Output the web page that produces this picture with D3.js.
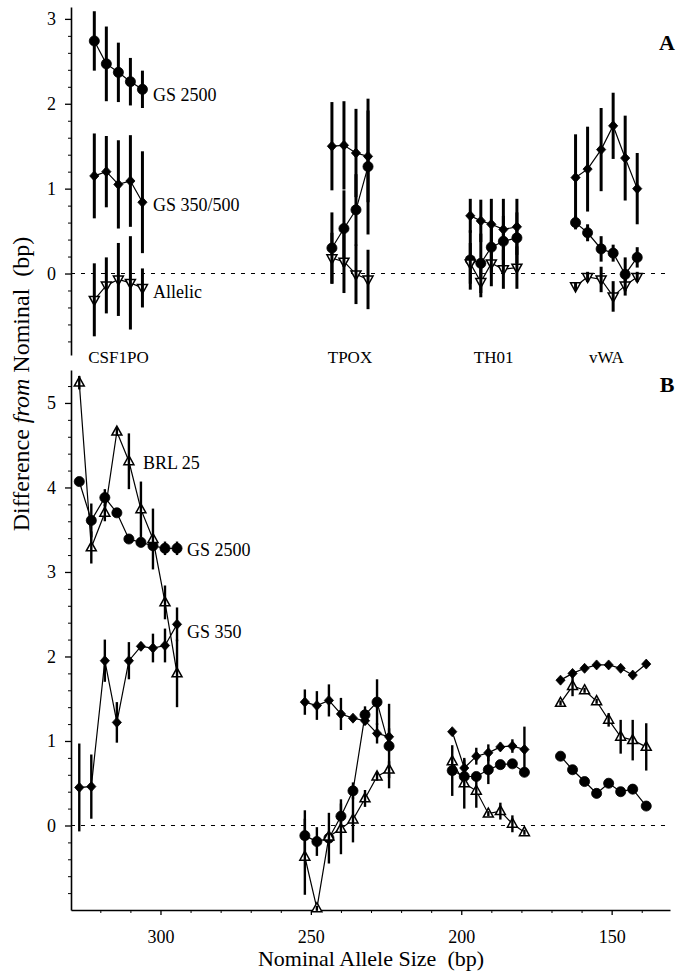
<!DOCTYPE html>
<html>
<head>
<meta charset="utf-8">
<script src="https://d3js.org/d3.v7.min.js"></script>
<style>
  body { margin: 0; background: #fff; }
  text { font-family: "Liberation Serif", "Times New Roman", serif; fill: #000; }
</style>
</head>
<body>
<div id="chart"></div>
<script>

// ---------- data ----------

// panel A : loci, nominal sizes (bp) and mean differences
var lociA = ["CSF1PO", "TPOX", "TH01", "vWA"];
var sizeA = [
    [322, 318, 314, 310, 306],
    [243, 239, 235, 231],
    [197, 193.5, 190, 186, 181.5],
    [162, 158, 153.5, 149.5, 145.5, 141.5]
];
var gs2500A    = [[2.74, 2.47, 2.37, 2.26, 2.17], [0.30, 0.53, 0.75, 1.26], [0.16, 0.12, 0.31, 0.38, 0.42], [0.60, 0.48, 0.29, 0.24, -0.01, 0.19]];
var gs2500AErr = [[0.35, 0.44, 0.35, 0.28, 0.22], [0.42, 0.45, 0.42, 0.80], [0.35, 0.35, 0.30, 0.30, 0.30], [0.08, 0.10, 0.15, 0.10, 0.20, 0.12]];
var gs350A     = [[1.15, 1.20, 1.05, 1.09, 0.84], [1.50, 1.51, 1.42, 1.38], [0.68, 0.62, 0.58, 0.52, 0.55], [1.13, 1.23, 1.46, 1.74, 1.36, 1.00]];
var gs350AErr  = [[0.50, 0.42, 0.52, 0.54, 0.60], [0.52, 0.52, 0.52, 0.54], [0.20, 0.25, 0.30, 0.36, 0.33], [0.51, 0.50, 0.49, 0.39, 0.50, 0.42]];
var allelicA    = [[-0.31, -0.14, -0.07, -0.11, -0.17], [0.18, 0.14, -0.01, -0.07], [0.12, -0.10, 0.12, 0.05, 0.07], [-0.15, -0.04, -0.07, -0.27, -0.14, -0.04]];
var allelicAErr = [[0.43, 0.33, 0.43, 0.55, 0.23], [0.30, 0.37, 0.35, 0.35], [0.24, 0.18, 0.27, 0.23, 0.25], [0.05, 0.06, 0.15, 0.18, 0.12, 0.06]];

// panel B : same loci, more alleles
var sizeB = [
    [327, 323, 318.5, 314.5, 310.5, 306.5, 302.5, 298.5, 294.5],
    [252, 248, 244, 240, 236, 232, 228, 224],
    [203, 199, 195, 191, 187, 183, 179],
    [167, 163, 159, 155, 151, 147, 143, 138.5]
];
var gs2500B    = [[4.07, 3.61, 3.88, 3.70, 3.39, 3.35, 3.31, 3.28, 3.28], [-0.12, -0.19, -0.15, 0.11, 0.41, 1.31, 1.46, 0.94], [0.65, 0.58, 0.58, 0.66, 0.72, 0.73, 0.63], [0.82, 0.66, 0.52, 0.38, 0.50, 0.40, 0.43, 0.23]];
var gs2500BErr = [[0.03, 0.20, 0.10, 0.03, 0.03, 0.03, 0.05, 0.08, 0.08], [0.30, 0.17, 0.30, 0.20, 0.10, 0.10, 0.27, 0.50], [0.30, 0.10, 0.05, 0.17, 0.03, 0.03, 0.03], [0.03, 0.03, 0.03, 0.03, 0.03, 0.03, 0.03, 0.03]];
var gs350B     = [[0.45, 0.46, 1.95, 1.22, 1.95, 2.12, 2.10, 2.13, 2.38], [1.46, 1.42, 1.48, 1.32, 1.27, 1.24, 1.09, 1.05], [1.11, 0.68, 0.82, 0.86, 0.93, 0.94, 0.90], [1.72, 1.80, 1.86, 1.90, 1.90, 1.86, 1.78, 1.91]];
var gs350BErr  = [[0.52, 0.38, 0.25, 0.24, 0.22, 0.05, 0.17, 0.20, 0.20], [0.15, 0.17, 0.19, 0.19, 0.03, 0.05, 0.12, 0.10], [0.03, 0.10, 0.10, 0.10, 0.05, 0.08, 0.27], [0.03, 0.03, 0.03, 0.03, 0.03, 0.03, 0.03, 0.03]];
var brl25B     = [[5.24, 3.29, 3.70, 4.66, 4.31, 3.74, 3.39, 2.64, 1.80], [-0.37, -0.98, -0.13, -0.04, 0.07, 0.32, 0.58, 0.66], [0.76, 0.50, 0.41, 0.14, 0.17, 0.02, -0.08], [1.45, 1.65, 1.60, 1.47, 1.25, 1.05, 1.01, 0.93]];
var brl25BErr  = [[0.08, 0.19, 0.10, 0.05, 0.33, 0.33, 0.36, 0.20, 0.40], [0.45, 0.03, 0.05, 0.30, 0.27, 0.10, 0.05, 0.10], [0.05, 0.30, 0.20, 0.03, 0.10, 0.10, 0.03], [0.03, 0.12, 0.03, 0.03, 0.08, 0.20, 0.24, 0.28]];

var xTicks = [300, 250, 200, 150];
var yTicksA = [0, 1, 2, 3];
var yTicksB = [0, 1, 2, 3, 4, 5];


// ---------- layout ----------
var width = 676, height = 973;
var left = 71, right = 670;

var svg = d3.select("#chart").append("svg")
    .attr("width", width)
    .attr("height", height);

var x = d3.scaleLinear().domain([329.75, 130.6]).range([left, right]);
var yA = d3.scaleLinear().domain([-0.96, 3.14]).range([355, 7]);
var yB = d3.scaleLinear().domain([-1, 5.39]).range([910, 370]);

// marker shapes
var shapes = {
    circle: d3.symbol().type(d3.symbolCircle).size(80)(),
    diamond: "M0,-5L4.6,0L0,5L-4.6,0Z",
    triUp: "M0,-5.6L5,3.4L-5,3.4Z",
    triDown: "M0,5.6L5,-3.4L-5,-3.4Z"
};


// left axis with 0.2 minor ticks, no box
function drawYAxis(y, ticks) {
    var dom = y.domain();
    var minor = d3.range(Math.ceil(dom[0] * 5) / 5, dom[1], 0.2)
        .filter(function(v) { return Math.abs(v - Math.round(v)) > 0.01; });

    var g = svg.append("g").attr("transform", "translate(" + left + ",0)");
    g.call(d3.axisLeft(y).tickValues(ticks).tickFormat(d3.format("d"))
            .tickSize(6).tickPadding(9).tickSizeOuter(0))
        .call(function(a) {
            a.select(".domain").attr("stroke-width", 1.6);
            a.selectAll(".tick line").attr("stroke-width", 1.3);
            a.selectAll("text").style("font-size", "18px")
                .style("font-family", "Liberation Serif");
        });
    g.append("g")
        .call(d3.axisLeft(y).tickValues(minor).tickFormat("").tickSize(3).tickSizeOuter(0))
        .call(function(a) {
            a.select(".domain").remove();
            a.selectAll(".tick line").attr("stroke-width", 1);
        });
}

function drawZero(y) {
    svg.append("line")
        .attr("x1", left).attr("x2", right)
        .attr("y1", y(0)).attr("y2", y(0))
        .attr("stroke", "#000")
        .attr("stroke-width", 1.2)
        .attr("stroke-dasharray", "4,6");
}

// one series: line per locus group, symbols, then the error bars
function drawSeries(y, sizes, vals, errs, shape, filled, barWidth) {
    var g = svg.append("g");

    var line = d3.line()
        .x(function(d) { return x(d[0]); })
        .y(function(d) { return y(d[1]); });

    sizes.forEach(function(s, k) {
        var pts = s.map(function(bp, i) { return [bp, vals[k][i], errs[k][i]]; });

        g.append("path")
            .datum(pts)
            .attr("d", line)
            .attr("fill", "none")
            .attr("stroke", "#000")
            .attr("stroke-width", 1.2);

        g.selectAll(null)
            .data(pts)
            .enter().append("path")
            .attr("d", shapes[shape])
            .attr("transform", function(d) { return "translate(" + x(d[0]) + "," + y(d[1]) + ")"; })
            .attr("fill", filled ? "#000" : "#fff")
            .attr("stroke", "#000")
            .attr("stroke-width", filled ? 0.8 : 1.5);

        g.selectAll(null)
            .data(pts)
            .enter().append("line")
            .attr("x1", function(d) { return x(d[0]); })
            .attr("x2", function(d) { return x(d[0]); })
            .attr("y1", function(d) { return y(d[1] - d[2]); })
            .attr("y2", function(d) { return y(d[1] + d[2]); })
            .attr("stroke", "#000")
            .attr("stroke-width", barWidth);
    });
}

function label(txt, px, py, size, anchor, weight) {
    return svg.append("text")
        .attr("x", px).attr("y", py)
        .attr("text-anchor", anchor || "start")
        .style("font-size", size + "px")
        .style("font-weight", weight || "normal")
        .text(txt);
}


// ---------- panel A ----------
drawYAxis(yA, yTicksA);
drawZero(yA);
drawSeries(yA, sizeA, gs350A, gs350AErr, "diamond", true, 3);
drawSeries(yA, sizeA, gs2500A, gs2500AErr, "circle", true, 3);
drawSeries(yA, sizeA, allelicA, allelicAErr, "triDown", false, 3);

// locus names under panel A, centred on each group
lociA.forEach(function(name, k) {
    var mid = (x(d3.max(sizeA[k])) + x(d3.min(sizeA[k]))) / 2;
    if (k == 0) mid = 118.5;
    label(name, mid, 363, 17, "middle");
});

label("GS 2500", 153, 101, 18);
label("GS 350/500", 153, 211, 18);
label("Allelic", 153, 298, 18);
label("A", 667, 50, 22, "middle", "bold");


// ---------- panel B ----------
drawYAxis(yB, yTicksB);
drawZero(yB);

// bottom axis, minor every 10 bp
var xAxisG = svg.append("g").attr("transform", "translate(0," + yB(-1) + ")");
xAxisG.call(d3.axisBottom(x).tickValues(xTicks).tickFormat(d3.format("d"))
        .tickSize(5).tickPadding(15).tickSizeOuter(0))
    .call(function(a) {
        a.select(".domain").attr("stroke-width", 1.6);
        a.selectAll(".tick line").attr("stroke-width", 1.3);
        a.selectAll("text").style("font-size", "18px")
            .style("font-family", "Liberation Serif");
    });
xAxisG.append("g")
    .call(d3.axisBottom(x).tickValues(d3.range(140, 330, 10).filter(function(v) { return v % 50 != 0; }))
        .tickFormat("").tickSize(3).tickSizeOuter(0))
    .call(function(a) { a.select(".domain").remove(); });

drawSeries(yB, sizeB, gs350B, gs350BErr, "diamond", true, 2.4);
drawSeries(yB, sizeB, gs2500B, gs2500BErr, "circle", true, 2.4);
drawSeries(yB, sizeB, brl25B, brl25BErr, "triUp", false, 2.4);

label("BRL 25", 143, 469, 18);
label("GS 2500", 187, 556, 18);
label("GS 350", 187, 638, 18);
label("B", 667, 392, 22, "middle", "bold");


// ---------- axis titles ----------
label("Nominal Allele Size  (bp)", 371, 966, 22, "middle").style("white-space", "pre");

var yt = svg.append("text")
    .attr("transform", "translate(29,384) rotate(-90)")
    .attr("text-anchor", "middle")
    .style("font-size", "24px")
    .style("white-space", "pre");
yt.append("tspan").text("Difference ");
yt.append("tspan").style("font-style", "italic").text("from");
yt.append("tspan").text(" Nominal  (bp)");

</script>
</body>
</html>
